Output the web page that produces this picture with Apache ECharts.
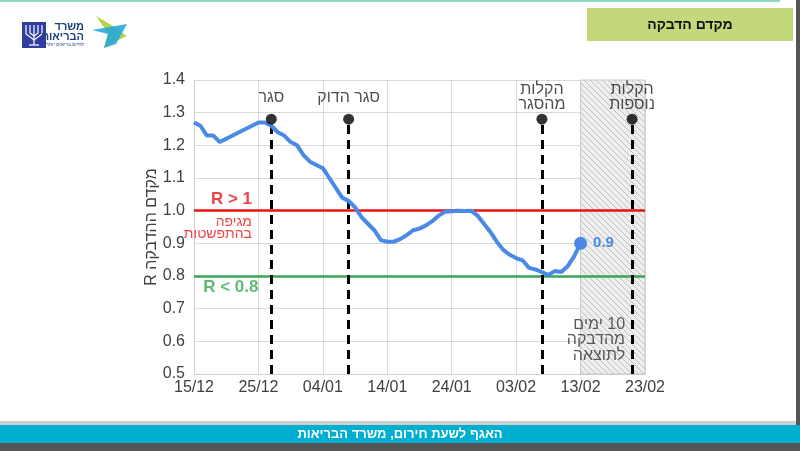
<!DOCTYPE html>
<html>
<head>
<meta charset="utf-8">
<script src="https://cdn.jsdelivr.net/npm/echarts@6/dist/echarts.min.js"></script>
<style>
  html, body { margin: 0; padding: 0; background: #fff; }
  #chart { width: 800px; height: 451px; }
</style>
</head>
<body>
<div id="chart"></div>
<script>
// יום-יום מ-15/12 עד 23/02
var DATES = (function () {
  var out = [], d = new Date(2020, 11, 15);
  for (var i = 0; i <= 70; i++) {
    var dd = ("0" + d.getDate()).slice(-2), mm = ("0" + (d.getMonth() + 1)).slice(-2);
    out.push(dd + "/" + mm);
    d.setDate(d.getDate() + 1);
  }
  return out;
})();

// מקדם ההדבקה R (נקרא מהתמונה), 15/12 .. 13/02
var R_VALUES = [
  1.27, 1.26, 1.23, 1.23, 1.21, 1.22, 1.23, 1.24, 1.25, 1.26,
  1.27, 1.27, 1.26, 1.24, 1.23, 1.21, 1.20, 1.17, 1.15, 1.14,
  1.13, 1.10, 1.07, 1.04, 1.03, 1.01, 0.98, 0.96, 0.94, 0.91,
  0.905, 0.905, 0.913, 0.925, 0.94, 0.945, 0.955, 0.968, 0.985, 0.997,
  0.998, 1.0, 0.999, 1.0, 0.985, 0.96, 0.935, 0.905, 0.88, 0.865,
  0.855, 0.848, 0.825, 0.82, 0.812, 0.803, 0.815, 0.812, 0.83, 0.86,
  0.9
];

// אירועים: תאריך, כותרת
var EVENT_DATES = ["27/12", "08/01", "07/02", "21/02"];
var EVENT_LABELS = ["סגר", "סגר הדוק", "הקלות\nמהסגר", "הקלות\nנוספות"];
var EVENT_TOP = 1.28;

var Y_TICKS = [0.5, 1.4, 0.1];   // min, max, interval
var THRESH_HIGH = 1.0, THRESH_LOW = 0.8;
var FORECAST_FROM = "13/02", FORECAST_TO = "23/02";

var BLUE = "#4a89e6", RED = "#ee1111", GREEN = "#3aa655";
var FONT = "Liberation Sans, Arial, sans-serif";

// דוגמת קווקוו לאזור "10 ימים"
function hatch() {
  var c = document.createElement("canvas");
  c.width = 6; c.height = 6;
  var g = c.getContext("2d");
  g.fillStyle = "#eeeeee"; g.fillRect(0, 0, 6, 6);
  g.strokeStyle = "#c2c2c2"; g.lineWidth = 1;
  g.beginPath();
  g.moveTo(-1, -1); g.lineTo(7, 7);
  g.moveTo(-1, 5); g.lineTo(1, 7);
  g.moveTo(5, -1); g.lineTo(7, 1);
  g.stroke();
  return { image: c, repeat: "repeat" };
}

var lastIdx = R_VALUES.length - 1;

var chart = echarts.init(document.getElementById("chart"));
chart.setOption({
  backgroundColor: "#fff",
  animation: false,
  textStyle: { fontFamily: FONT },
  grid: { left: 194, right: 155, top: 80, bottom: 77 },
  xAxis: {
    type: "category", data: DATES, boundaryGap: false,
    axisLine: { lineStyle: { color: "#d0d0d0" } },
    axisTick: { show: false },
    axisLabel: { interval: 9, color: "#404040", fontSize: 16, margin: 6 },
    splitLine: { show: true, interval: 9, lineStyle: { color: "#d9d9d9", width: 1 } }
  },
  yAxis: {
    type: "value", min: Y_TICKS[0], max: Y_TICKS[1], interval: Y_TICKS[2],
    name: "R מקדם ההדבקה", nameLocation: "middle", nameRotate: 90, nameGap: 34,
    nameMoveOverlap: false,
    nameTextStyle: { color: "#404040", fontSize: 16 },
    axisLine: { show: true, lineStyle: { color: "#d0d0d0" } },
    axisTick: { show: false },
    axisLabel: { color: "#404040", fontSize: 16, margin: 9,
      formatter: function (v) { return v.toFixed(1); } },
    splitLine: { lineStyle: { color: "#d9d9d9", width: 1 } }
  },
  series: [
    {
      type: "line", data: [], silent: true,
      markArea: {
        silent: true,
        itemStyle: { color: hatch(), borderColor: "#c8c8c8", borderWidth: 1 },
        data: [[{ xAxis: FORECAST_FROM }, { xAxis: FORECAST_TO }]]
      },
      markLine: {
        silent: true, symbol: "none",
        label: { show: false },
        data: [
          { yAxis: THRESH_HIGH, lineStyle: { color: RED, width: 2.5, type: "solid" } },
          { yAxis: THRESH_LOW, lineStyle: { color: GREEN, width: 2.5, type: "solid" } }
        ]
      }
    },
    {
      // קווי אירועים מקווקווים
      type: "line", data: [], silent: true,
      markLine: {
        silent: true, symbol: "none", label: { show: false },
        lineStyle: { color: "#000", width: 3, type: [9, 6] },
        data: EVENT_DATES.map(function (d) {
          return [{ coord: [d, Y_TICKS[0]] }, { coord: [d, EVENT_TOP] }];
        })
      }
    },
    {
      type: "line", data: R_VALUES, smooth: false,
      lineStyle: { color: BLUE, width: 4 },
      itemStyle: { color: BLUE },
      symbol: "circle",
      symbolSize: function (v, p) { return p.dataIndex === lastIdx ? 13 : 0; },
      showSymbol: true,
      label: {
        show: true, position: "right", distance: 6,
        color: BLUE, fontWeight: "bold", fontSize: 15,
        formatter: function (p) { return p.dataIndex === lastIdx ? p.value.toFixed(1) : ""; }
      },
      z: 5
    },
    {
      // נקודות ראש האירועים + כותרות
      type: "scatter", symbolSize: 11, itemStyle: { color: "#000" },
      data: EVENT_DATES.map(function (d, i) { return [d, EVENT_TOP, EVENT_LABELS[i]]; }),
      label: {
        show: true, position: "inside", offset: [0, -22], verticalAlign: "middle",
        color: "#222", fontSize: 16, lineHeight: 15,
        formatter: function (p) { return p.data[2]; }
      },
      z: 6
    },
    {
      // טקסטים על הגרף
      type: "scatter", symbolSize: 0, silent: true,
      data: [
        { value: ["24/12", 1.034], label: { formatter: "R > 1", color: RED, fontWeight: "bold", fontSize: 17 } },
        { value: ["24/12", 0.947], label: { formatter: "מגיפה\nבהתפשטות", color: RED, fontSize: 14, lineHeight: 12 } },
        { value: ["25/12", 0.765], label: { formatter: "R < 0.8", color: GREEN, fontWeight: "bold", fontSize: 17 } },
        { value: ["21/02", 0.604], label: { formatter: "ימים \u200E10\nמהדבקה\nלתוצאה", color: "#333", fontSize: 16, lineHeight: 15.5, align: "right", distance: 7 } }
      ],
      label: { show: true, position: "left", distance: 0, align: "right" },
      z: 6
    }
  ],
  graphic: [
    // פס עליון
    { type: "rect", shape: { x: 0, y: 0, width: 780, height: 2 }, style: { fill: "#8fd8c6" } },
    // כותרת
    { type: "rect", shape: { x: 587, y: 8, width: 206, height: 33 }, style: { fill: "#c3d77b" } },
    { type: "text", x: 690, y: 25, style: { text: "מקדם הדבקה", fill: "#111", font: "bold 14px " + FONT, textAlign: "center", textVerticalAlign: "middle" } },
    // שוליים ימניים
    { type: "rect", shape: { x: 796, y: 0, width: 4, height: 451 }, style: { fill: "#555" } },
    // פוטר
    { type: "rect", shape: { x: 0, y: 421, width: 796, height: 4 }, style: { fill: "#cfcfcf" } },
    { type: "rect", shape: { x: 0, y: 425, width: 800, height: 18 }, style: { fill: "#00aecf" } },
    { type: "rect", shape: { x: 0, y: 443, width: 800, height: 8 }, style: { fill: "#555" } },
    { type: "text", x: 400, y: 434, style: { text: "האגף לשעת חירום, משרד הבריאות", fill: "#fff", font: "bold 13px " + FONT, textAlign: "center", textVerticalAlign: "middle" } },
    // סמל המדינה (מנורה פשוטה)
    { type: "rect", shape: { x: 22, y: 22, width: 24, height: 26 }, style: { fill: "#2f3da0" } },
    { type: "polyline", shape: { points: [[26, 25], [26, 34], [34, 40], [42, 34], [42, 25]] }, style: { stroke: "#fff", lineWidth: 1.2, fill: null } },
    { type: "polyline", shape: { points: [[30, 25], [30, 33], [34, 36], [38, 33], [38, 25]] }, style: { stroke: "#fff", lineWidth: 1.2, fill: null } },
    { type: "line", shape: { x1: 34, y1: 25, x2: 34, y2: 45 }, style: { stroke: "#fff", lineWidth: 1.2 } },
    { type: "line", shape: { x1: 29, y1: 45, x2: 39, y2: 45 }, style: { stroke: "#fff", lineWidth: 1.2 } },
    // לוגו משרד הבריאות
    { type: "polygon", shape: { points: [[96, 16], [108, 33], [104, 48], [118, 40], [127, 36], [113, 26]] }, style: { fill: "#b5d44a" } },
    { type: "polygon", shape: { points: [[92, 30], [127, 24], [116, 44], [104, 48], [108, 34]] }, style: { fill: "#2aa8d8", opacity: 0.9 } },
    { type: "text", x: 84, y: 27, style: { text: "משרד", fill: "#1d3f7a", font: "bold 11px " + FONT, textAlign: "right", textVerticalAlign: "middle" } },
    { type: "text", x: 84, y: 37, style: { text: "הבריאות", fill: "#1d3f7a", font: "bold 11px " + FONT, textAlign: "right", textVerticalAlign: "middle" } },
    { type: "text", x: 84, y: 45, style: { text: "לחיים בריאים יותר", fill: "#1d3f7a", font: "5px " + FONT, textAlign: "right", textVerticalAlign: "middle" } }
  ]
});
</script>
</body>
</html>
